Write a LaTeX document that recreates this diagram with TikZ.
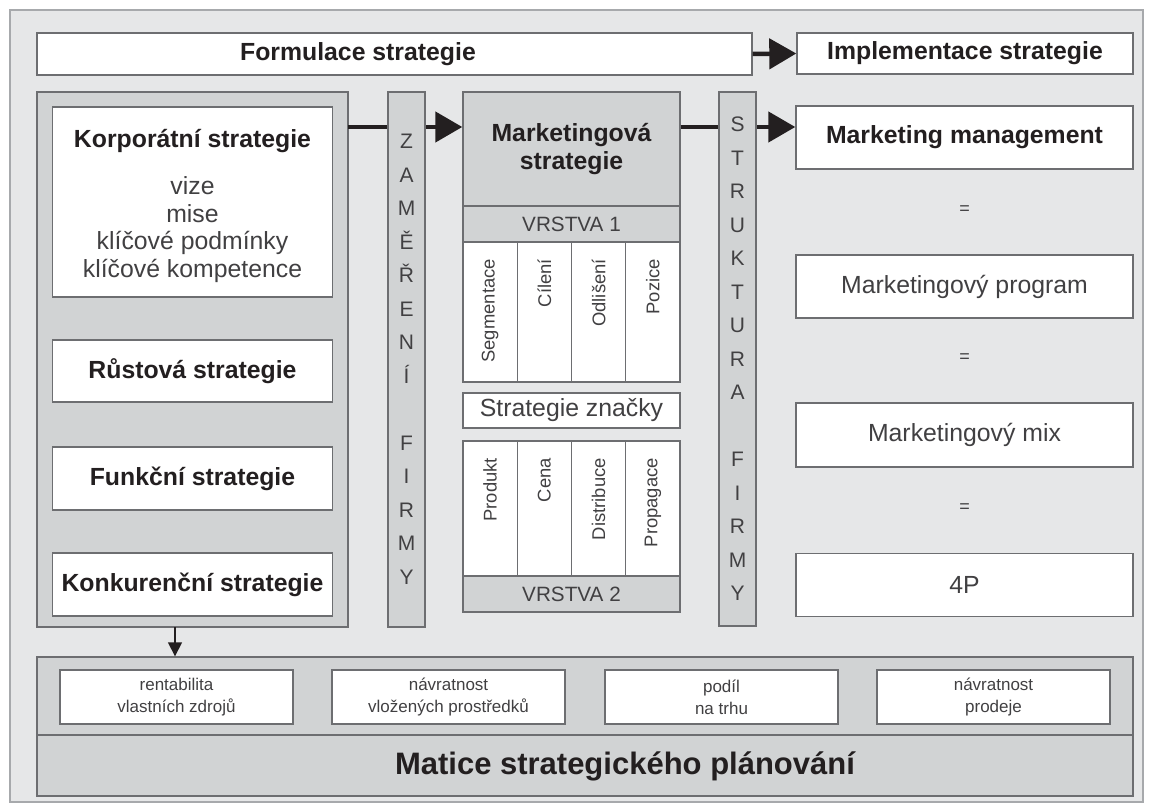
\documentclass[tikz,border=0pt]{standalone}
\usepackage{fontspec}
\setmainfont{Liberation Sans}
\usetikzlibrary{arrows.meta}
\definecolor{framebg}{HTML}{E6E7E8}
\definecolor{framegray}{HTML}{A7A9AC}
\definecolor{panelgray}{HTML}{D1D3D4}
\definecolor{edgegray}{HTML}{6D6E71}
\definecolor{textgray}{HTML}{414042}
\definecolor{textdark}{HTML}{231F20}
\tikzset{
  cell/.style={draw=edgegray, line width=1.4pt, fill=white, inner sep=0pt, text=textgray, align=center, font=\fontsize{24.8}{27.7}\selectfont},
  graycell/.style={cell, fill=panelgray},
  boldtext/.style={text=textdark, font=\fontsize{24.8}{27.7}\selectfont\bfseries},
  bartext/.style={graycell, font=\fontsize{21}{33.5}\selectfont},
  coltext/.style={rotate=90, anchor=east, inner sep=0pt, text=textgray, font=\fontsize{18.4}{20}\selectfont},
  smalltext/.style={cell, font=\fontsize{17}{22}\selectfont},
  bigarrow/.style={line width=4.5pt, textdark, -{Triangle[length=27pt, width=30pt]}},
  thinarrow/.style={line width=1.6pt, textdark, -{Triangle[length=14pt, width=14pt]}}
}
\begin{document}
\begin{tikzpicture}[x=1pt, y=-1pt]
\useasboundingbox (0,0) rectangle (1150,805);
\fill[white] (0,0) rectangle (1150,805);
\draw[fill=framebg, draw=framegray, line width=1.2pt] (10,10) rectangle (1143,802);

% top row
\node[cell, minimum width=715, minimum height=42] (form) at (394.5,54) {};
\node[boldtext] (formtext) at (358,54) {Formulace strategie};
\node[cell, boldtext, minimum width=336, minimum height=41] (impl) at (965,53.5) {Implementace strategie};
\draw[bigarrow] (form.east) -- (impl.west);

% left panel
\node[graycell, minimum width=311, minimum height=535] (leftpanel) at (192.5,359.5) {};
\node[cell, minimum width=280, minimum height=190] (korp) at (192.5,202) {};
\node[text=textgray, align=center, font=\fontsize{24.8}{27.7}\selectfont] (korptext) at (192.5,206)
  {{\bfseries\color{textdark}Korporátní strategie}\\[19.5pt] vize\\ mise\\ klíčové podmínky\\ klíčové kompetence};
\node[cell, boldtext, minimum width=280, minimum height=62] (rust) at (192.5,371) {Růstová strategie};
\node[cell, boldtext, minimum width=280, minimum height=63] (funk) at (192.5,478.5) {Funkční strategie};
\node[cell, boldtext, minimum width=280, minimum height=63] (konk) at (192.5,584.5) {Konkurenční strategie};

% marketing block
\node[graycell, boldtext, minimum width=217, minimum height=114] (mstrat) at (571.5,149) {Marketingová\\ strategie};
\node[graycell, font=\fontsize{20.7}{22}\selectfont, minimum width=217, minimum height=36] (layer1) at (571.5,224) {VRSTVA 1};
\node[cell, minimum width=54.25, minimum height=140] (c1) at (490.1,312) {};
\node[cell, minimum width=54.25, minimum height=140] (c2) at (544.4,312) {};
\node[cell, minimum width=54.25, minimum height=140] (c3) at (598.6,312) {};
\node[cell, minimum width=54.25, minimum height=140] (c4) at (652.9,312) {};
\node[coltext] (seg) at (490.1,259) {Segmentace};
\node[coltext] (cil) at (544.4,259) {Cílení};
\node[coltext] (odl) at (598.6,259) {Odlišení};
\node[coltext] (poz) at (652.9,259) {Pozice};
\node[cell, minimum width=217, minimum height=35] (brand) at (571.5,410.5) {Strategie značky};
\node[cell, minimum width=54.25, minimum height=135] (d1) at (490.1,508.5) {};
\node[cell, minimum width=54.25, minimum height=135] (d2) at (544.4,508.5) {};
\node[cell, minimum width=54.25, minimum height=135] (d3) at (598.6,508.5) {};
\node[cell, minimum width=54.25, minimum height=135] (d4) at (652.9,508.5) {};
\node[coltext] (prod) at (490.1,458) {Produkt};
\node[coltext] (cena) at (544.4,458) {Cena};
\node[coltext] (dist) at (598.6,458) {Distribuce};
\node[coltext] (prop) at (652.9,458) {Propagace};
\node[graycell, font=\fontsize{20.7}{22}\selectfont, minimum width=217, minimum height=36] (layer2) at (571.5,594) {VRSTVA 2};

% right column
\node[cell, boldtext, minimum width=337, minimum height=63] (mm) at (964.5,137.5) {Marketing management};
\node[text=textgray, font=\fontsize{18}{20}\selectfont] (eq1) at (964.5,210) {=};
\node[cell, minimum width=337, minimum height=63] (prog) at (964.5,286.5) {Marketingový program};
\node[text=textgray, font=\fontsize{18}{20}\selectfont] (eq2) at (964.5,358) {=};
\node[cell, minimum width=337, minimum height=64] (mix) at (964.5,435) {Marketingový mix};
\node[text=textgray, font=\fontsize{18}{20}\selectfont] (eq3) at (964.5,508) {=};
\node[cell, minimum width=337, minimum height=63] (fourp) at (964.5,585) {4P};

% bottom matrix
\node[graycell, minimum width=1096, minimum height=78] (matrix) at (585,696) {};
\node[graycell, minimum width=1096, minimum height=61] (matrixfoot) at (585,765.5) {};
\node[boldtext, font=\fontsize{31}{34}\selectfont\bfseries] (matrixtext) at (625,766) {Matice strategického plánování};
\node[smalltext, minimum width=233, minimum height=54] (roe) at (176.5,697) {rentabilita\\ vlastních zdrojů};
\node[smalltext, minimum width=233, minimum height=54] (roi) at (448.5,697) {návratnost\\ vložených prostředků};
\node[smalltext, minimum width=233, minimum height=54] (share) at (721.5,697) {podíl\\ na trhu};
\node[smalltext, minimum width=233, minimum height=54] (ros) at (993.5,697) {návratnost\\ prodeje};

% connectors
\coordinate (a1) at (348,127);
\coordinate (a2) at (175,627);
\draw[bigarrow] (a1) -- (a1 -| mstrat.west);
\draw[bigarrow] (a1 -| mstrat.east) -- (a1 -| mm.west);
\draw[thinarrow] (a2) -- (a2 |- matrix.north);

% vertical bars
\node[bartext, minimum width=37, minimum height=535] (focus) at (406.5,359.5)
  {Z\\ A\\ M\\ Ě\\ Ř\\ E\\ N\\ Í\\[33.5pt] F\\ I\\ R\\ M\\ Y};
\node[bartext, minimum width=37, minimum height=534] (struct) at (737.5,359)
  {S\\ T\\ R\\ U\\ K\\ T\\ U\\ R\\ A\\[33.5pt] F\\ I\\ R\\ M\\ Y};
\end{tikzpicture}
\end{document}
